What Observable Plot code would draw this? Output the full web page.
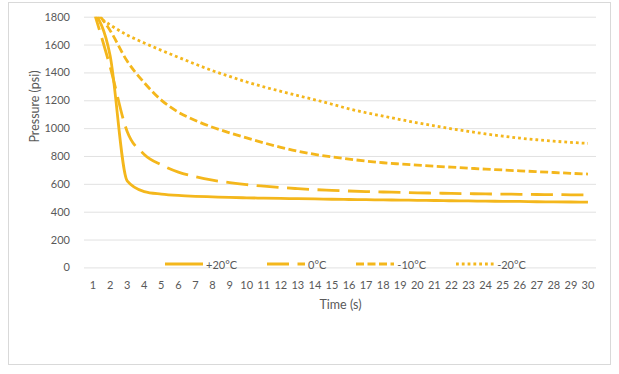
<!DOCTYPE html>
<html>
<head>
<meta charset="utf-8">
<script src="https://cdn.jsdelivr.net/npm/d3@7"></script>
<script src="https://cdn.jsdelivr.net/npm/@observablehq/plot@0.6"></script>
<style>
  html, body { margin: 0; padding: 0; background: #ffffff; }
  #wrap { position: relative; width: 619px; height: 374px; overflow: hidden; background: #fff; font-family: Lato, "Open Sans", sans-serif; }
  #frame { position: absolute; left: 8px; top: 2px; width: 603px; height: 363px; border: 1px solid #d9d9d9; box-sizing: border-box; }
  #chart { position: absolute; left: 0; top: 0; }
  #legend { position: absolute; left: 165px; top: 257px; height: 14px; display: flex; align-items: center; gap: 30px; font-size: 11px; color: #595959; }
  #legend .item { display: flex; align-items: center; }
  #legend svg { display: block; margin-right: 3px; }
</style>
</head>
<body>
<div id="wrap">
  <div id="frame"></div>
  <div id="chart"></div>
  <div id="legend"></div>
</div>
<script>
// ---- data ----
const times = [1,2,3,4,5,6,7,8,9,10,11,12,13,14,15,16,17,18,19,20,21,22,23,24,25,26,27,28,29,30];
const seriesNames = ["+20°C", "0°C", "-10°C", "-20°C"];
const plus20 = [1850,1525,625,548,530,520,514,510,506,503,501,499,497,495,493,491,490,488,487,485,484,482,481,479,478,477,475,474,473,472];
const zero   = [1860,1445,980,815,740,688,655,630,612,598,587,577,569,562,557,552,548,545,542,539,537,535,533,531,530,528,527,526,525,524];
const minus10 = [1870,1705,1485,1330,1205,1118,1058,1010,970,933,898,866,838,815,797,781,767,755,746,738,730,723,716,709,703,697,691,685,679,674];
const minus20 = [1830,1745,1672,1615,1562,1512,1463,1416,1375,1335,1300,1268,1237,1207,1175,1142,1114,1090,1065,1042,1020,999,980,962,946,932,920,910,901,894];
const yTicks = [0,200,400,600,800,1000,1200,1400,1600,1800];
const xTitle = "Time (s)";
const yTitle = "Pressure (psi)";

// ---- styles ----
const gold = "#F4B71C";
const lw = 2.8;
const dashes = [null, "22 8.5", "8 3.5", "2.8 3"];
const valuesBySeries = [plus20, zero, minus10, minus20];

const rows = valuesBySeries.map((vals, k) => times.map((t, i) => ({t, p: vals[i], s: seriesNames[k]})));

const lineMarks = rows.map((r, k) => {
  const opts = { x: "t", y: "p", stroke: gold, strokeWidth: lw, strokeLinecap: "butt", curve: "monotone-x", clip: true };
  if (dashes[k]) opts.strokeDasharray = dashes[k];
  return Plot.line(r, opts);
});

const chart = Plot.plot({
  width: 619,
  height: 374,
  marginTop: 16.7,
  marginBottom: 106.6,
  marginLeft: 84,
  marginRight: 23,
  style: { fontFamily: "Lato, 'Open Sans', sans-serif", fontSize: "11px", color: "#595959", background: "transparent" },
  x: { domain: [0.5, 30.5] },
  y: { domain: [0, 1800] },
  marks: [
    Plot.gridY(yTicks, { stroke: "#d9d9d9", strokeOpacity: 1, strokeWidth: 0.8 }),
    Plot.axisY({ ticks: yTicks, tickSize: 0, tickPadding: 14.5, tickFormat: d => String(d), label: null }),
    Plot.axisX({ ticks: times, tickSize: 0, tickPadding: 13, tickFormat: d => String(d), label: null }),
    ...lineMarks,
    Plot.text([xTitle], { text: d => d, frameAnchor: "bottom", dy: 37, lineAnchor: "middle", fontSize: 12.5, fill: "#595959" }),
    Plot.text([yTitle], { text: d => d, frameAnchor: "left", rotate: -90, dx: -50, lineAnchor: "middle", fontSize: 12.5, fill: "#595959" })
  ]
});
document.getElementById("chart").appendChild(chart);

// ---- legend ----
const legend = document.getElementById("legend");
const ns = "http://www.w3.org/2000/svg";
seriesNames.forEach((name, k) => {
  const item = document.createElement("div");
  item.className = "item";
  const svg = document.createElementNS(ns, "svg");
  svg.setAttribute("width", 38);
  svg.setAttribute("height", 8);
  const ln = document.createElementNS(ns, "line");
  ln.setAttribute("x1", 0); ln.setAttribute("x2", 38);
  ln.setAttribute("y1", 4); ln.setAttribute("y2", 4);
  ln.setAttribute("stroke", gold);
  ln.setAttribute("stroke-width", lw);
  if (dashes[k]) ln.setAttribute("stroke-dasharray", dashes[k]);
  svg.appendChild(ln);
  const span = document.createElement("span");
  span.textContent = name;
  item.appendChild(svg);
  item.appendChild(span);
  legend.appendChild(item);
});
</script>
</body>
</html>
